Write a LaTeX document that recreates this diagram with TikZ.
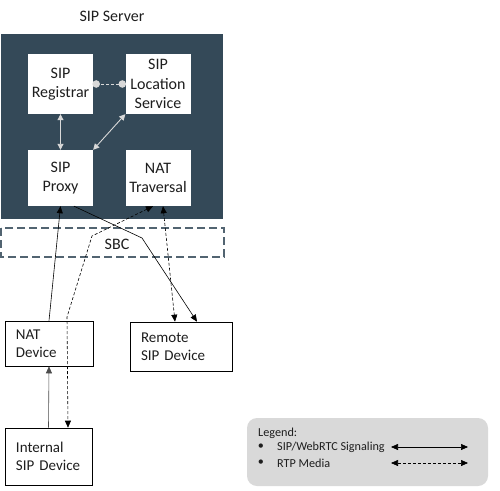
\documentclass[tikz,border=0pt]{standalone}
\usepackage{fontspec}
\setmainfont{Carlito}
\usetikzlibrary{arrows.meta,calc}
\definecolor{server}{RGB}{52,73,88}
\definecolor{lightline}{RGB}{217,217,217}
\definecolor{legendbg}{RGB}{217,217,217}
\definecolor{txt}{RGB}{30,30,30}
\tikzset{
  inbox/.style={fill=white, draw=none, minimum width=65pt, minimum height=60pt, inner sep=0pt, align=center, text=txt, font=\fontsize{16}{19.5}\selectfont},
  devbox/.style={draw=black, line width=0.6pt, fill=white, inner xsep=11pt, inner ysep=0pt, align=left, text=txt, font=\fontsize{15}{18.5}\selectfont},
  sig/.style={line width=0.6pt, -{Triangle[length=7pt,width=6pt]}},
  media/.style={line width=0.6pt, dash pattern=on 3pt off 2pt, {Triangle[length=7pt,width=6pt]}-{Triangle[length=7pt,width=6pt]}},
  inner/.style={draw=lightline, line width=0.9pt, {Triangle[length=6pt,width=6pt]}-{Triangle[length=6pt,width=6pt]}},
  lgtext/.style={text=txt, font=\fontsize{12.2}{16}\selectfont, inner sep=0pt},
}
\begin{document}
\begin{tikzpicture}[x=1pt,y=-1pt]
\useasboundingbox (0,0) rectangle (500,490);
% title
\node[text=txt, font=\fontsize{16}{19}\selectfont] (title) at (112,16) {SIP Server};
% server box
\fill[server] (1,34) rectangle (223,219);
% SBC
\draw[draw=server!85, line width=1.4pt, dash pattern=on 8pt off 4pt] (1,228) rectangle (224,257);
\node[text=txt, font=\fontsize{16}{19}\selectfont] (sbc) at (117,244) {SBC};
% inner boxes
\node[inbox] (reg) at (60.5,84) {SIP\\Registrar};
\node[inbox] (loc) at (158,84) {SIP\\Location\\Service};
\node[inbox, minimum height=56pt] (proxy) at (60.5,178) {SIP\\Proxy};
\node[inbox, minimum height=56pt] (nat) at (158,178) {NAT\\Traversal};
% inner connectors
\draw[draw=lightline, line width=0.9pt, dash pattern=on 3pt off 2pt] ([xshift=3pt]reg.east) -- ([xshift=-3pt]loc.west);
\fill[lightline] ([xshift=3pt]reg.east) circle (3.8pt);
\fill[lightline] ([xshift=-3pt]loc.west) circle (3.8pt);
\draw[inner] (reg.south) -- (proxy.north);
\draw[inner] (loc.south west) -- (proxy.north east);
% devices
\node[devbox, text width=66pt, minimum height=45pt] (natdev) at (49,343.5) {NAT\\Device};
\node[devbox, text width=80pt, minimum height=49pt] (remote) at (181,346.5) {Remote\\SIP Device};
\node[devbox, text width=65pt, minimum height=57pt] (internal) at (48.5,456.5) {Internal\\SIP Device};
% signaling
\draw[sig] (natdev.north) -- (proxy.south);
\draw[sig, draw=black!70] (internal.north) -- (natdev.south);
\coordinate (b1) at (142,238);
\draw[sig] ([xshift=13.5pt]proxy.south) -- (b1) -- ([xshift=16pt]remote.north);
% media
\coordinate (m1) at (92,236);
\coordinate (m2) at (67,317);
\draw[media] ([xshift=-5pt]nat.south) -- (m1) -- (m2) -- ([xshift=19.5pt]internal.north);
\draw[media] ([xshift=5pt]nat.south) -- ([xshift=-6pt]remote.north);
% legend
\node[fill=legendbg, rounded corners=10pt, minimum width=241pt, minimum height=68pt, inner sep=0pt] (legend) at (367.5,452) {};
\node[lgtext, anchor=west] (lgtitle) at (258,433) {Legend:};
\node[lgtext] (bul1) at (261,447) {•};
\node[lgtext] (bul2) at (261,463) {•};
\node[lgtext, anchor=west] (lg1) at (277,447) {SIP/WebRTC Signaling};
\node[lgtext, anchor=west] (lg2) at (277,463) {RTP Media};
\coordinate (la1) at (391,447);
\coordinate (la2) at (468,447);
\coordinate (lb1) at (391,463);
\coordinate (lb2) at (468,463);
\draw[line width=0.6pt, {Triangle[length=7pt,width=6pt]}-{Triangle[length=7pt,width=6pt]}] (la1) -- (la2);
\draw[media] (lb1) -- (lb2);
\end{tikzpicture}
\end{document}
